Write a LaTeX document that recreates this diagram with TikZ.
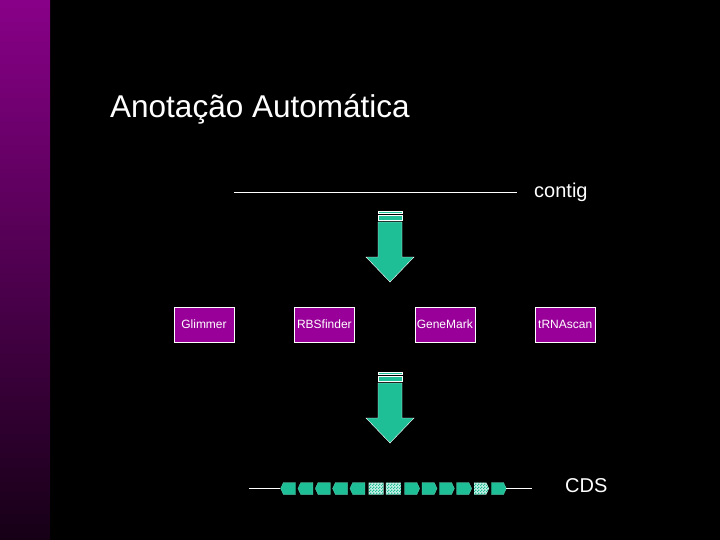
\documentclass[tikz,border=0pt]{standalone}
\usepackage{fontspec}
\setmainfont{Liberation Sans}
\usepackage{tikz}
\usetikzlibrary{positioning, shapes.symbols, patterns.meta}

\definecolor{genegreen}{RGB}{30,190,150}
\definecolor{boxpurple}{RGB}{153,0,153}
\definecolor{bartop}{RGB}{136,0,136}
\definecolor{barbottom}{RGB}{22,0,22}

\tikzdeclarepattern{
  name=finecheck,
  type=uncolored,
  bottom left={(0pt,0pt)},
  top right={(3pt,3pt)},
  tile size={(3pt,3pt)},
  code={\fill (0pt,0pt) rectangle (1.5pt,1.5pt); \fill (1.5pt,1.5pt) rectangle (3pt,3pt);}
}

\begin{document}
\begin{tikzpicture}[
                x=1pt, y=-1pt,
                tool/.style={draw=white, thin, fill=boxpurple, text=white, rectangle, minimum width=60pt, minimum height=35pt, inner sep=0pt, font=\fontsize{12}{14}\selectfont},
                label text/.style={text=white, inner sep=0pt, anchor=base west},
                gene/.style={signal, signal from=nowhere, signal pointer angle=130, fill=genegreen, draw=genegreen!60!white, very thin, minimum width=15pt, minimum height=12pt, inner sep=0pt},
                genecheck/.style={gene, draw=none, preaction={fill=genegreen!25!white}, pattern={finecheck}, pattern color=genegreen},
                dnaline/.style={white, thin},
                bigarrow/.style={draw=white, thin, fill=genegreen}
            ]

            % Hintergrund
            \useasboundingbox (0,0) rectangle (720,540);
            \fill[black] (0,0) rectangle (720,540);
            \shade[top color=bartop, bottom color=barbottom] (0,0) rectangle (50,540);

            % Titel
            \node[label text, font=\fontsize{31.5}{36}\selectfont] (title) at (110,118) {Anotação Automática};

            % Contig
            \node[label text, font=\fontsize{20}{24}\selectfont] (contig) at (534,197) {contig};
            \coordinate (contigleft) at (234,192);
            \coordinate (contigright) at (517,192);
            \draw[dnaline] (contigleft) -- (contigright);

            % Pfeile
            \foreach \y in {211,372} {
                \draw[bigarrow] (378,\y) rectangle (402,\y+2.5);
                \draw[bigarrow] (378,\y+4.5) rectangle (402,\y+9);
                \draw[bigarrow] (378,\y+11) -- (402,\y+11) -- (402,\y+46) -- (414,\y+46)
                    -- (390,\y+71) -- (366,\y+46) -- (378,\y+46) -- cycle;
            }

            % Programme
            \node[tool] (glimmer) at (204,324.5) {Glimmer};
            \node[tool, right=60pt of glimmer] (rbsfinder) {RBSfinder};
            \node[tool, right=60pt of rbsfinder] (genemark) {GeneMark};
            \node[tool, right=60pt of genemark] (trnascan) {tRNAscan};

            % Gene
            \foreach \i/\dir/\kind in {1/west/gene, 2/west/gene, 3/west/gene, 4/west/gene, 5/west/gene,
                    6/nowhere/genecheck, 7/nowhere/genecheck, 8/east/gene, 9/east/gene, 10/east/gene,
                    11/east/gene, 12/east/genecheck, 13/east/gene} {
                \node[\kind, signal to=\dir] (g\i) at ({289.5+(\i-1)*17.33},488.5) {};
            }
            \coordinate (cdsleft) at (249,488.5);
            \coordinate (cdsright) at (532,488.5);
            \draw[dnaline] (cdsleft) -- (g1.west);
            \draw[dnaline] (g13.east) -- (cdsright);
            \node[label text, font=\fontsize{20}{24}\selectfont] (cds) at (565,492) {CDS};

        \end{tikzpicture}
\end{document}
